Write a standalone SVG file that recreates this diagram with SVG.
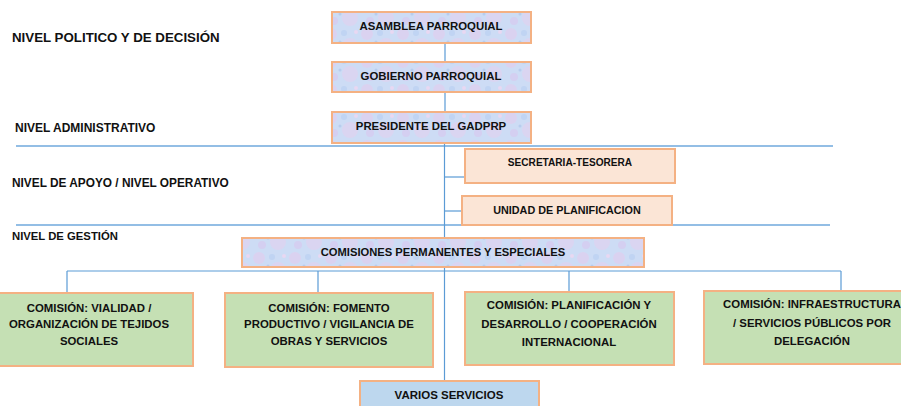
<svg xmlns="http://www.w3.org/2000/svg" width="901" height="406" viewBox="0 0 901 406">
<style>
text{font-family:"Liberation Sans",Arial,sans-serif;font-weight:bold;fill:#111;}
.n{font-size:11.4px;text-anchor:middle;}
.lvl{font-size:11.3px;}
.tex{fill:url(#tex);stroke:#f4b183;stroke-width:2;}
.peach{fill:#fbe5d6;stroke:#f4b183;stroke-width:2;}
.green{fill:#c5e0b4;stroke:#f4b183;stroke-width:2;}
.blue{fill:#bdd7ee;stroke:#f4b183;stroke-width:2;}
.c{stroke:#5b9bd5;stroke-width:1.2;fill:none;}
.lv{stroke:#6fa8dc;stroke-width:1.6;fill:none;}
</style>
<defs>
<pattern id="tex" width="36" height="28" patternUnits="userSpaceOnUse">
<rect width="36" height="28" fill="#cddcf5"/>
<circle cx="7" cy="6" r="6" fill="#ddd0ef" opacity="0.8"/>
<circle cx="26" cy="18" r="8" fill="#e0d2f0" opacity="0.7"/>
<circle cx="20" cy="5" r="3" fill="#c0d4f3"/>
<circle cx="10" cy="21" r="4" fill="#d6ccf0" opacity="0.8"/>
<circle cx="32" cy="4" r="2" fill="#e8d8f2"/>
<circle cx="16" cy="14" r="1.5" fill="#b8cdee"/>
</pattern>
</defs>

<g id="levels">
<text class="lvl" x="12" y="42" style="font-size:13.3px">NIVEL POLITICO Y DE DECISIÓN</text>
<text class="lvl" x="15" y="132" style="font-size:12px">NIVEL ADMINISTRATIVO</text>
<text class="lvl" x="12" y="187" style="font-size:11.85px">NIVEL DE APOYO / NIVEL OPERATIVO</text>
<text class="lvl" x="12" y="240">NIVEL DE GESTIÓN</text>
<line class="lv" x1="16" y1="146" x2="833" y2="146"/>
<line class="lv" x1="16" y1="225" x2="830" y2="225"/>
</g>

<g id="connectors">
<line class="c" x1="445" y1="43" x2="445" y2="62"/>
<line class="c" x1="445" y1="92" x2="445" y2="112"/>
<line class="c" x1="444.5" y1="143" x2="444.5" y2="380"/>
<line class="c" x1="445" y1="177" x2="464" y2="177"/>
<line class="c" x1="445" y1="211" x2="462" y2="211"/>
<line class="c" x1="67" y1="271" x2="841" y2="271"/>
<line class="c" x1="67" y1="271" x2="67" y2="293"/>
<line class="c" x1="318" y1="271" x2="318" y2="293"/>
<line class="c" x1="569" y1="271" x2="569" y2="292"/>
<line class="c" x1="841" y1="271" x2="841" y2="291"/>
</g>

<g id="asamblea">
<rect class="tex" x="332" y="12" width="199" height="31"/>
<text class="n" x="431" y="29.5">ASAMBLEA PARROQUIAL</text>
</g>
<g id="gobierno">
<rect class="tex" x="332" y="62" width="199" height="30"/>
<text class="n" x="431" y="80">GOBIERNO PARROQUIAL</text>
</g>
<g id="presidente">
<rect class="tex" x="332" y="112" width="199" height="31"/>
<text class="n" x="431" y="129.5">PRESIDENTE DEL GADPRP</text>
</g>
<g id="secretaria">
<rect class="peach" x="465" y="149" width="210" height="34"/>
<text class="n" x="570" y="165.5" style="font-size:10.1px">SECRETARIA-TESORERA</text>
</g>
<g id="unidad">
<rect class="peach" x="462" y="196" width="210" height="29"/>
<text class="n" x="567" y="213.5" style="font-size:10.8px">UNIDAD DE PLANIFICACION</text>
</g>
<g id="comisiones">
<rect class="tex" x="242" y="238" width="402" height="29"/>
<text class="n" x="443" y="255.5" style="font-size:11.2px">COMISIONES PERMANENTES Y ESPECIALES</text>
</g>
<g id="com1">
<rect class="green" x="-16" y="293" width="209" height="73"/>
<text class="n" x="89" y="311.5">COMISIÓN: VIALIDAD  /</text>
<text class="n" x="89" y="328">ORGANIZACIÓN DE TEJIDOS</text>
<text class="n" x="89" y="344.5">SOCIALES</text>
</g>
<g id="com2">
<rect class="green" x="225" y="293" width="208" height="74"/>
<text class="n" x="329" y="311.5">COMISIÓN: FOMENTO</text>
<text class="n" x="329" y="328">PRODUCTIVO / VIGILANCIA DE</text>
<text class="n" x="329" y="345">OBRAS Y SERVICIOS</text>
</g>
<g id="com3">
<rect class="green" x="465" y="292" width="209" height="73"/>
<text class="n" x="569" y="308.5">COMISIÓN: PLANIFICACIÓN Y</text>
<text class="n" x="569" y="327.5">DESARROLLO / COOPERACIÓN</text>
<text class="n" x="569" y="345.5">INTERNACIONAL</text>
</g>
<g id="com4">
<rect class="green" x="704" y="291" width="216" height="73"/>
<text class="n" x="812" y="307.5">COMISIÓN: INFRAESTRUCTURA</text>
<text class="n" x="812" y="326.5">/ SERVICIOS PÚBLICOS POR</text>
<text class="n" x="812" y="344.5">DELEGACIÓN</text>
</g>
<g id="varios">
<rect class="blue" x="360" y="381" width="179" height="40"/>
<text class="n" x="449" y="398.5" style="font-size:11.5px">VARIOS SERVICIOS</text>
</g>
</svg>
